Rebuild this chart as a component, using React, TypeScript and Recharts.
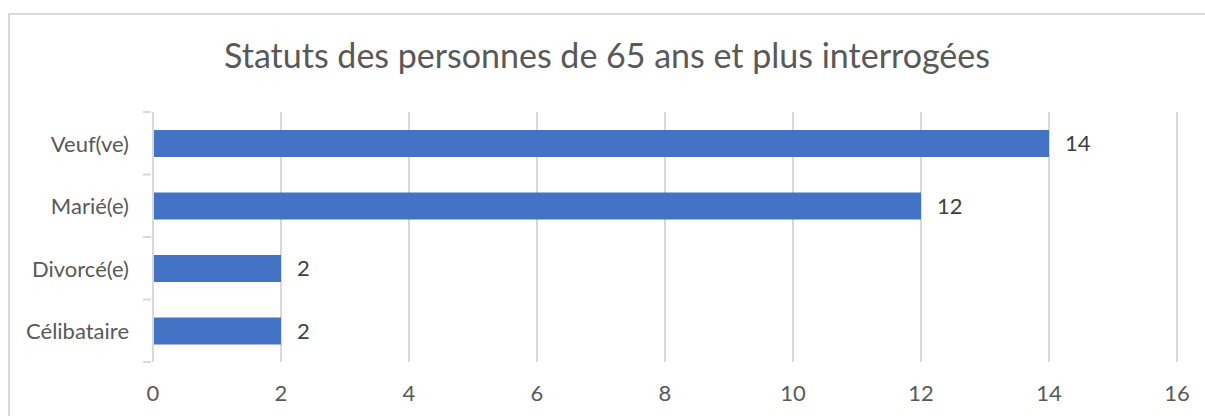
import React from 'react';
import { BarChart, Bar, XAxis, YAxis, CartesianGrid, LabelList } from 'recharts';

const categories = ['Veuf(ve)', 'Marié(e)', 'Divorcé(e)', 'Célibataire'];
const counts = [14, 12, 2, 2];
const xTicks = [0, 2, 4, 6, 8, 10, 12, 14, 16];
const title = 'Statuts des personnes de 65 ans et plus interrogées';

const data = categories.map((c, i) => ({ name: c, value: counts[i] }));

const FONT = 'Lato, "Open Sans", sans-serif';
const TEXT = '#595959';
const GRID = '#D9D9D9';

const CategoryTick = (props: any) => {
  const { x, y, payload, index } = props;
  const half = payload && payload.offset ? payload.offset : 0;
  const axisX = x + 8;
  return (
    <g>
      <line x1={axisX - 8} x2={axisX} y1={y - half} y2={y - half} stroke={GRID} strokeWidth={2} />
      {index === categories.length - 1 && (
        <line x1={axisX - 8} x2={axisX} y1={y + half} y2={y + half} stroke={GRID} strokeWidth={2} />
      )}
      <text x={x - 14} y={y} textAnchor="end" dominantBaseline="central" fill={TEXT} fontSize={22} fontFamily={FONT}>
        {payload.value}
      </text>
    </g>
  );
};

export default function App() {
  return (
    <div style={{ position: 'absolute', left: 0, top: 0, width: 1205, height: 416, background: '#fff', overflow: 'hidden' }}>
      <div
        style={{
          position: 'absolute',
          left: 8,
          top: 13,
          width: 1300,
          height: 500,
          border: `2px solid ${GRID}`,
          boxSizing: 'border-box',
        }}
      />
      <div
        style={{
          position: 'absolute',
          left: 0,
          top: 31,
          width: 1214,
          textAlign: 'center',
          fontFamily: FONT,
          fontSize: 34,
          color: TEXT,
          lineHeight: '48px',
        }}
      >
        {title}
      </div>
      <div style={{ position: 'absolute', left: 0, top: 0 }}>
        <BarChart
          width={1205}
          height={416}
          data={data}
          layout="vertical"
          margin={{ top: 112, right: 28, bottom: 0, left: 0 }}
        >
          <CartesianGrid horizontal={false} stroke={GRID} strokeWidth={2} />
          <XAxis
            type="number"
            domain={[0, 16]}
            ticks={xTicks}
            axisLine={false}
            tickLine={false}
            tickSize={0}
            tickMargin={23}
            height={54}
            interval={0}
            tick={{ fill: TEXT, fontSize: 22, fontFamily: FONT }}
          />
          <YAxis
            type="category"
            dataKey="name"
            width={153}
            axisLine={{ stroke: GRID, strokeWidth: 2 }}
            tickLine={false}
            tickSize={8}
            tick={<CategoryTick />}
            interval={0}
          />
          <Bar dataKey="value" fill="#4472C4" barSize={27} isAnimationActive={false}>
            <LabelList dataKey="value" position="right" offset={16} fill="#404040" fontSize={22} fontFamily={FONT} />
          </Bar>
        </BarChart>
      </div>
    </div>
  );
}
